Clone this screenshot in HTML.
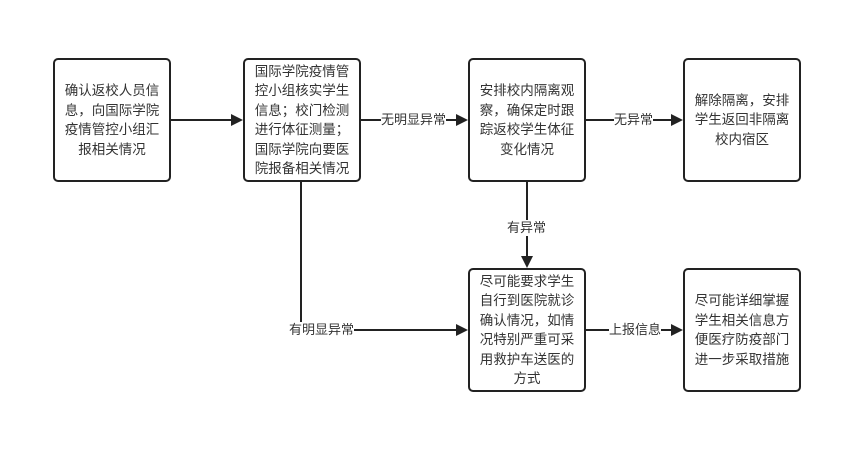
<!DOCTYPE html>
<html><head><meta charset="utf-8"><style>
body{margin:0;width:866px;height:469px;background:#fff;position:relative;overflow:hidden;font-family:"Liberation Sans","Noto Sans CJK SC",sans-serif;}
.b{position:absolute;width:118px;height:124px;border:2px solid #222;border-radius:5px;box-sizing:border-box;display:flex;align-items:center;justify-content:center;text-align:center;font-size:13.5px;line-height:19.5px;color:#333;padding:0 4px;background:#fff}
.l{position:absolute;font-size:13px;color:#333;background:#fff;line-height:16px;white-space:nowrap}
svg{position:absolute;left:0;top:0}
</style></head><body>
<svg width="866" height="469">
<g stroke="#222" stroke-width="2" fill="none">
<line x1="170" y1="120" x2="233" y2="120"/>
<line x1="361" y1="120" x2="458" y2="120"/>
<line x1="586" y1="120" x2="673" y2="120"/>
<line x1="527" y1="181" x2="527" y2="258"/>
<polyline points="301,181 301,330 458,330"/>
<line x1="586" y1="330" x2="673" y2="330"/>
</g>
<g fill="#222">
<polygon points="243,120 231,114 231,126"/>
<polygon points="468,120 456,114 456,126"/>
<polygon points="683,120 671,114 671,126"/>
<polygon points="527,268 521,256 533,256"/>
<polygon points="468,330 456,324 456,336"/>
<polygon points="683,330 671,324 671,336"/>
</g>
</svg>
<div class="l" style="left:381px;top:112px">无明显异常</div>
<div class="l" style="left:614px;top:112px">无异常</div>
<div class="l" style="left:507px;top:220px">有异常</div>
<div class="l" style="left:289px;top:322px">有明显异常</div>
<div class="l" style="left:609px;top:322px">上报信息</div>
<div class="b" style="left:53px;top:58px">确认返校人员信息，向国际学院疫情管控小组汇报相关情况</div>
<div class="b" style="left:243px;top:58px">国际学院疫情管控小组核实学生信息；校门检测进行体征测量；国际学院向要医院报备相关情况</div>
<div class="b" style="left:468px;top:58px">安排校内隔离观察，确保定时跟踪返校学生体征变化情况</div>
<div class="b" style="left:683px;top:58px">解除隔离，安排学生返回非隔离校内宿区</div>
<div class="b" style="left:468px;top:268px">尽可能要求学生自行到医院就诊确认情况，如情况特别严重可采用救护车送医的方式</div>
<div class="b" style="left:683px;top:268px">尽可能详细掌握学生相关信息方便医疗防疫部门进一步采取措施</div>
</body></html>
